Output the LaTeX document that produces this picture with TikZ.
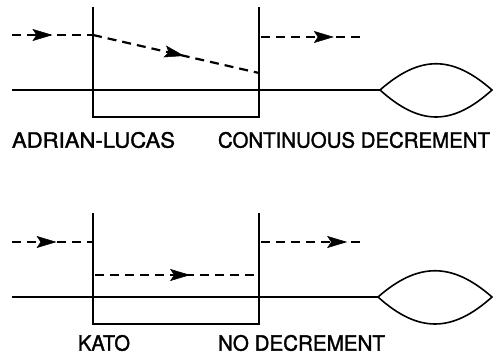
\documentclass[tikz,border=0pt]{standalone}
\usepackage{fontspec}
\usepackage{graphicx}
\setmainfont{TeX Gyre Heros}
\newfontfamily\lblfont{TeX Gyre Heros}[FakeBold=1.5]
\usetikzlibrary{arrows.meta,decorations.markings}
\tikzset{
  solidline/.style={line width=1.6pt},
  dashline/.style={line width=1.7pt, dash pattern=on 9pt off 6pt},
  arrowat/.style={postaction={decorate},decoration={markings,
      mark=at position #1 with {\arrow[line width=0.5pt]{Stealth[length=20pt,width=12pt,inset=4pt]}}}},
  lbl/.style={font=\lblfont\fontsize{21}{25}\selectfont, inner sep=0pt, anchor=center},
}
\newcommand{\fitw}[2]{\resizebox{#1pt}{\height}{#2}}
\begin{document}
\begin{tikzpicture}[x=1pt,y=-1pt]
\useasboundingbox (0,0) rectangle (495,355);
% ---------- top panel ----------
\coordinate (tl0) at (12,35);
\coordinate (tl1) at (93,35);
\coordinate (tin) at (259,73);
\coordinate (tr0) at (261,37);
\coordinate (tr1) at (365,37);
\coordinate (tax0) at (12,90);
\coordinate (tax1) at (380,90);
\coordinate (tlens) at (492,90);
\draw[solidline] (93,7) -- (93,117) -- (259,117) -- (259,7);
\draw[solidline] (tax0) -- (tax1);
\draw[solidline] (tax1) .. controls (420,55) and (452,55) .. (tlens)
                 .. controls (452,126) and (420,126) .. (tax1) -- cycle;
\draw[dashline, arrowat=0.5] (tl0) -- (tl1);
\draw[dashline, line width=2.2pt, arrowat=0.55] (tl1) -- (tin);
\draw[dashline, arrowat=0.7] (tr0) -- (tr1);
\node[lbl] (al) at (93.5,140) {\fitw{163}{ADRIAN-LUCAS}};
\node[lbl] (cd) at (354,140) {\fitw{272}{CONTINUOUS DECREMENT}};
% ---------- bottom panel ----------
\coordinate (bl0) at (12,242);
\coordinate (bl1) at (93,242);
\coordinate (bi0) at (95,275);
\coordinate (bi1) at (259,275);
\coordinate (br0) at (261,242);
\coordinate (br1) at (360,242);
\coordinate (bax0) at (12,297);
\coordinate (bax1) at (378,297);
\coordinate (blens) at (492,297);
\draw[solidline] (93,213) -- (93,324) -- (259,324) -- (259,213);
\draw[solidline] (bax0) -- (bax1);
\draw[solidline] (bax1) .. controls (418,262) and (452,262) .. (blens)
                 .. controls (452,333) and (418,333) .. (bax1) -- cycle;
\draw[dashline, arrowat=0.55] (bl0) -- (bl1);
\draw[dashline, arrowat=0.58] (bi0) -- (bi1);
\draw[dashline, arrowat=0.87] (br0) -- (br1);
\node[lbl] (ka) at (104,343) {\fitw{52}{KATO}};
\node[lbl] (nd) at (301.5,343) {\fitw{167}{NO DECREMENT}};
\end{tikzpicture}
\end{document}
